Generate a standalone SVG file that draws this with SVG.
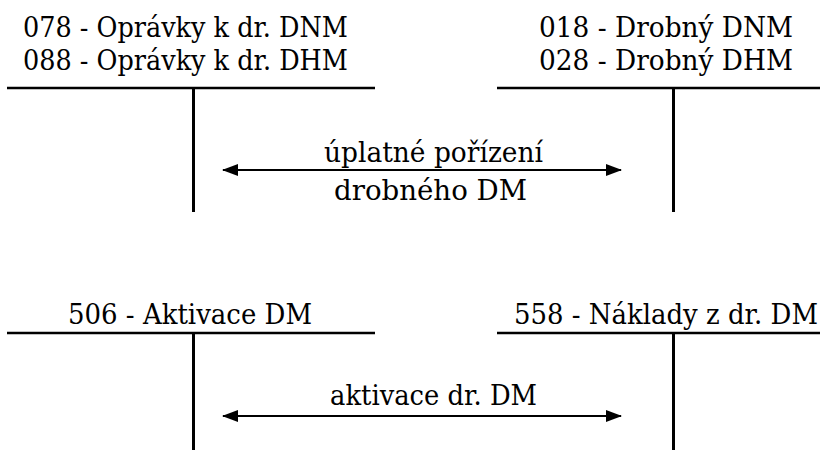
<svg xmlns="http://www.w3.org/2000/svg" width="820" height="450" viewBox="0 0 820 450" font-family="'DejaVu Serif', 'Liberation Serif', serif">
  <style>
    text { font-size: 27.5px; fill: #000; }
    .rule { stroke: #000; stroke-width: 2.5; fill: none; }
    .post { stroke: #000; stroke-width: 3; fill: none; }
    .flow { stroke: #000; stroke-width: 2; fill: none; marker-start: url(#head); marker-end: url(#head); }
  </style>
  <defs>
    <marker id="head" viewBox="0 0 16 12" refX="15" refY="6" markerWidth="16" markerHeight="12" markerUnits="userSpaceOnUse" orient="auto-start-reverse">
      <path d="M0,0 L16,6 L0,12 Z" fill="#000"/>
    </marker>
  </defs>

  <rect width="820" height="450" fill="#fff"/>

  <!-- T-account: accumulated depreciation of small assets -->
  <g id="acc-078-088">
    <text x="23" y="37" textLength="325" lengthAdjust="spacingAndGlyphs">078 - Oprávky k dr. DNM</text>
    <text x="23" y="70" textLength="325" lengthAdjust="spacingAndGlyphs">088 - Oprávky k dr. DHM</text>
    <line class="rule" x1="7" y1="88" x2="375" y2="88"/>
    <line class="post" x1="193.5" y1="88" x2="193.5" y2="212"/>
  </g>

  <!-- T-account: small intangible / tangible assets -->
  <g id="acc-018-028">
    <text x="539" y="37" textLength="254" lengthAdjust="spacingAndGlyphs">018 - Drobný DNM</text>
    <text x="539" y="70" textLength="254" lengthAdjust="spacingAndGlyphs">028 - Drobný DHM</text>
    <line class="rule" x1="497" y1="88" x2="820" y2="88"/>
    <line class="post" x1="673.5" y1="88" x2="673.5" y2="212"/>
  </g>

  <!-- T-account: capitalisation -->
  <g id="acc-506">
    <text x="68" y="324" textLength="244" lengthAdjust="spacingAndGlyphs">506 - Aktivace DM</text>
    <line class="rule" x1="7" y1="333" x2="375" y2="333"/>
    <line class="post" x1="193.5" y1="333" x2="193.5" y2="450"/>
  </g>

  <!-- T-account: costs of small assets -->
  <g id="acc-558">
    <text x="514" y="324" textLength="304" lengthAdjust="spacingAndGlyphs">558 - Náklady z dr. DM</text>
    <line class="rule" x1="497" y1="333" x2="820" y2="333"/>
    <line class="post" x1="673.5" y1="333" x2="673.5" y2="450"/>
  </g>

  <!-- connectors between accounts -->
  <g id="connectors">
    <line class="flow" x1="223" y1="170" x2="621" y2="170"/>
    <line class="flow" x1="223" y1="416" x2="621" y2="416"/>
  </g>

  <!-- connector labels -->
  <g id="labels">
    <text x="324" y="162" textLength="219" lengthAdjust="spacingAndGlyphs">úplatné pořízení</text>
    <text x="334" y="200" textLength="193" lengthAdjust="spacingAndGlyphs">drobného DM</text>
    <text x="330" y="405" textLength="207" lengthAdjust="spacingAndGlyphs">aktivace dr. DM</text>
  </g>
</svg>
